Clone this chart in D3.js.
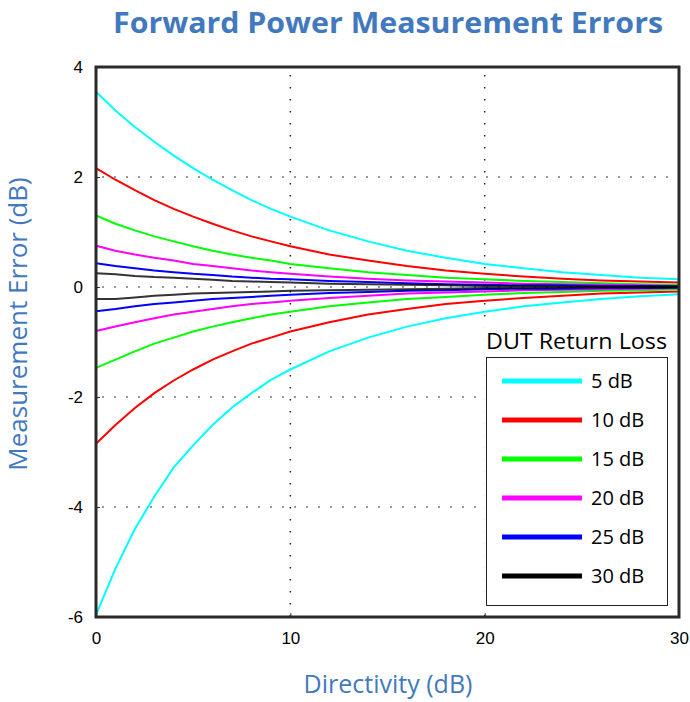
<!DOCTYPE html>
<html>
<head>
<meta charset="utf-8">
<script src="https://cdn.jsdelivr.net/npm/d3@7"></script>
<style>
  body { margin: 0; background: #fff; }
  svg { display: block; }
  text { font-family: "Open Sans", Lato, sans-serif; }
</style>
</head>
<body>
<svg id="chart" width="690" height="702"></svg>
<script>
// directivity (dB) sample points
const directivity = [0, 1, 2, 3, 4, 5, 6, 7, 8, 9, 10, 12, 14, 16, 18, 20, 22, 24, 26, 28, 30];

// DUT return loss series, upper and lower error bounds (dB)
const returnLoss = ['5 dB', '10 dB', '15 dB', '20 dB', '25 dB', '30 dB'];
const seriesColors = ['#00ffff', '#ff0000', '#00ff00', '#ff00ff', '#0000ff', '#000000'];

const upper5  = [3.55, 3.21, 2.91, 2.64, 2.39, 2.16, 1.95, 1.76, 1.58, 1.42, 1.28, 1.03, 0.83, 0.66, 0.53, 0.42, 0.34, 0.27, 0.22, 0.17, 0.14];
const lower5  = [-5.96, -5.12, -4.40, -3.81, -3.28, -2.88, -2.51, -2.19, -1.93, -1.69, -1.50, -1.17, -0.92, -0.72, -0.57, -0.45, -0.35, -0.28, -0.22, -0.17, -0.13];
const upper10 = [2.16, 1.95, 1.76, 1.58, 1.42, 1.28, 1.15, 1.03, 0.92, 0.83, 0.74, 0.59, 0.48, 0.38, 0.30, 0.24, 0.19, 0.15, 0.12, 0.10, 0.08];
const lower10 = [-2.85, -2.51, -2.20, -1.93, -1.70, -1.50, -1.32, -1.17, -1.03, -0.92, -0.81, -0.64, -0.50, -0.40, -0.31, -0.25, -0.20, -0.16, -0.12, -0.10, -0.08];
const upper15 = [1.30, 1.15, 1.03, 0.92, 0.83, 0.74, 0.66, 0.59, 0.53, 0.48, 0.42, 0.34, 0.27, 0.22, 0.17, 0.14, 0.11, 0.09, 0.07, 0.05, 0.04];
const lower15 = [-1.47, -1.32, -1.17, -1.03, -0.92, -0.81, -0.72, -0.64, -0.57, -0.50, -0.45, -0.35, -0.28, -0.22, -0.18, -0.14, -0.11, -0.09, -0.07, -0.06, -0.04];
const upper20 = [0.75, 0.66, 0.59, 0.53, 0.48, 0.42, 0.38, 0.34, 0.30, 0.27, 0.24, 0.19, 0.15, 0.12, 0.10, 0.08, 0.06, 0.05, 0.04, 0.03, 0.02];
const lower20 = [-0.80, -0.72, -0.64, -0.57, -0.50, -0.45, -0.40, -0.35, -0.31, -0.28, -0.25, -0.20, -0.16, -0.12, -0.10, -0.08, -0.06, -0.05, -0.04, -0.03, -0.02];
const upper25 = [0.43, 0.38, 0.34, 0.30, 0.27, 0.24, 0.22, 0.19, 0.17, 0.15, 0.14, 0.11, 0.09, 0.07, 0.05, 0.04, 0.03, 0.03, 0.02, 0.02, 0.01];
const lower25 = [-0.44, -0.40, -0.35, -0.31, -0.28, -0.25, -0.22, -0.20, -0.18, -0.16, -0.14, -0.11, -0.09, -0.07, -0.06, -0.04, -0.03, -0.03, -0.02, -0.02, -0.01];
const upper30 = [0.25, 0.23, 0.20, 0.18, 0.17, 0.15, 0.13, 0.11, 0.10, 0.09, 0.08, 0.06, 0.05, 0.04, 0.03, 0.02, 0.02, 0.01, 0.01, 0.01, 0.01];
const lower30 = [-0.22, -0.22, -0.19, -0.16, -0.14, -0.12, -0.11, -0.10, -0.09, -0.08, -0.07, -0.06, -0.05, -0.04, -0.03, -0.02, -0.02, -0.01, -0.01, -0.01, -0.01];

const upperSets = [upper5, upper10, upper15, upper20, upper25, upper30];
const lowerSets = [lower5, lower10, lower15, lower20, lower25, lower30];

const xTicks = [0, 10, 20, 30];
const yTicks = [4, 2, 0, -2, -4, -6];
const xGrid = [10, 20];
const yGrid = [2, 0, -2, -4];

const blue = '#4279be';
const plotLeft = 96, plotRight = 679, plotTop = 67, plotBottom = 617;

const svg = d3.select('#chart');

const x = d3.scaleLinear().domain([0, 30]).range([plotLeft, plotRight]);
const y = d3.scaleLinear().domain([-6, 4]).range([plotBottom, plotTop]);

// title
svg.append('text')
    .attr('x', 388)
    .attr('y', 33)
    .attr('text-anchor', 'middle')
    .attr('textLength', 550)
    .attr('lengthAdjust', 'spacingAndGlyphs')
    .style('font-size', '28px')
    .style('font-weight', 'bold')
    .style('fill', blue)
    .text('Forward Power Measurement Errors');

// grid
const grid = svg.append('g');
grid.selectAll('.hgrid')
    .data(yGrid)
    .enter()
    .append('line')
    .attr('x1', plotLeft + 6).attr('x2', plotRight)
    .attr('y1', d => y(d)).attr('y2', d => y(d))
    .style('stroke', '#999')
    .style('stroke-width', 2)
    .style('stroke-dasharray', '2,10');

grid.selectAll('.vgrid')
    .data(xGrid)
    .enter()
    .append('line')
    .attr('x1', d => x(d)).attr('x2', d => x(d))
    .attr('y1', plotTop + 8).attr('y2', plotBottom)
    .style('stroke', '#222')
    .style('stroke-width', 1.5)
    .style('stroke-dasharray', '1.5,10.5');

// curves
const line = d3.line()
    .x((d, i) => x(directivity[i]))
    .y(d => y(d));

const curves = svg.append('g');
returnLoss.forEach((name, k) => {
    [upperSets[k], lowerSets[k]].forEach(vals => {
        curves.append('path')
            .datum(vals)
            .attr('d', line)
            .style('fill', 'none')
            .style('stroke', seriesColors[k])
            .style('stroke-width', 2)
            .style('stroke-opacity', k === 5 ? 0.8 : 1);
    });
});

// axes
const yAxis = svg.append('g')
    .attr('transform', `translate(${plotLeft},0)`)
    .call(d3.axisLeft(y).tickValues(yTicks).tickSize(-4).tickPadding(13).tickFormat(d => String(d)));
const xAxis = svg.append('g')
    .attr('transform', `translate(0,${plotBottom})`)
    .call(d3.axisBottom(x).tickValues(xTicks).tickSize(-4).tickPadding(15).tickFormat(d => String(d)));

[xAxis, yAxis].forEach(a => {
    a.select('.domain').remove();
    a.selectAll('.tick line').style('stroke', '#333');
    a.selectAll('.tick text')
        .style('font-family', '"Liberation Sans", Arial, sans-serif')
        .style('font-size', '17px')
        .style('fill', '#000');
});
yAxis.selectAll('.tick text').attr('dy', '0.35em');

// frame
svg.append('rect')
    .attr('x', plotLeft).attr('y', plotTop)
    .attr('width', plotRight - plotLeft).attr('height', plotBottom - plotTop)
    .style('fill', 'none')
    .style('stroke', '#2a2a2a')
    .style('stroke-width', 3);

// axis titles
svg.append('text')
    .attr('x', 388)
    .attr('y', 693)
    .attr('text-anchor', 'middle')
    .style('font-size', '25px')
    .style('fill', blue)
    .text('Directivity (dB)');

svg.append('text')
    .attr('transform', 'translate(27,324) rotate(-90)')
    .attr('text-anchor', 'middle')
    .style('font-size', '26px')
    .style('fill', blue)
    .text('Measurement Error (dB)');

// legend
const legend = svg.append('g');
legend.append('rect')
    .attr('x', 484).attr('y', 322)
    .attr('width', 188).attr('height', 286)
    .style('fill', '#fff');
legend.append('rect')
    .attr('x', 486.5).attr('y', 357.5)
    .attr('width', 181).attr('height', 248)
    .style('fill', 'none')
    .style('stroke', '#222')
    .style('stroke-width', 1);
legend.append('text')
    .attr('x', 486)
    .attr('y', 349)
    .attr('textLength', 181)
    .attr('lengthAdjust', 'spacingAndGlyphs')
    .style('font-size', '21px')
    .style('fill', '#000')
    .text('DUT Return Loss');

const rowY = d3.scalePoint().domain(returnLoss).range([381, 576]);
const rows = legend.selectAll('.row')
    .data(returnLoss)
    .enter()
    .append('g');
rows.append('line')
    .attr('x1', 502).attr('x2', 582)
    .attr('y1', d => rowY(d)).attr('y2', d => rowY(d))
    .style('stroke', (d, i) => seriesColors[i])
    .style('stroke-width', 5);
rows.append('text')
    .attr('x', 591)
    .attr('y', d => rowY(d) + 7)
    .style('font-size', '20px')
    .style('fill', '#000')
    .text(d => d);
</script>
</body>
</html>
